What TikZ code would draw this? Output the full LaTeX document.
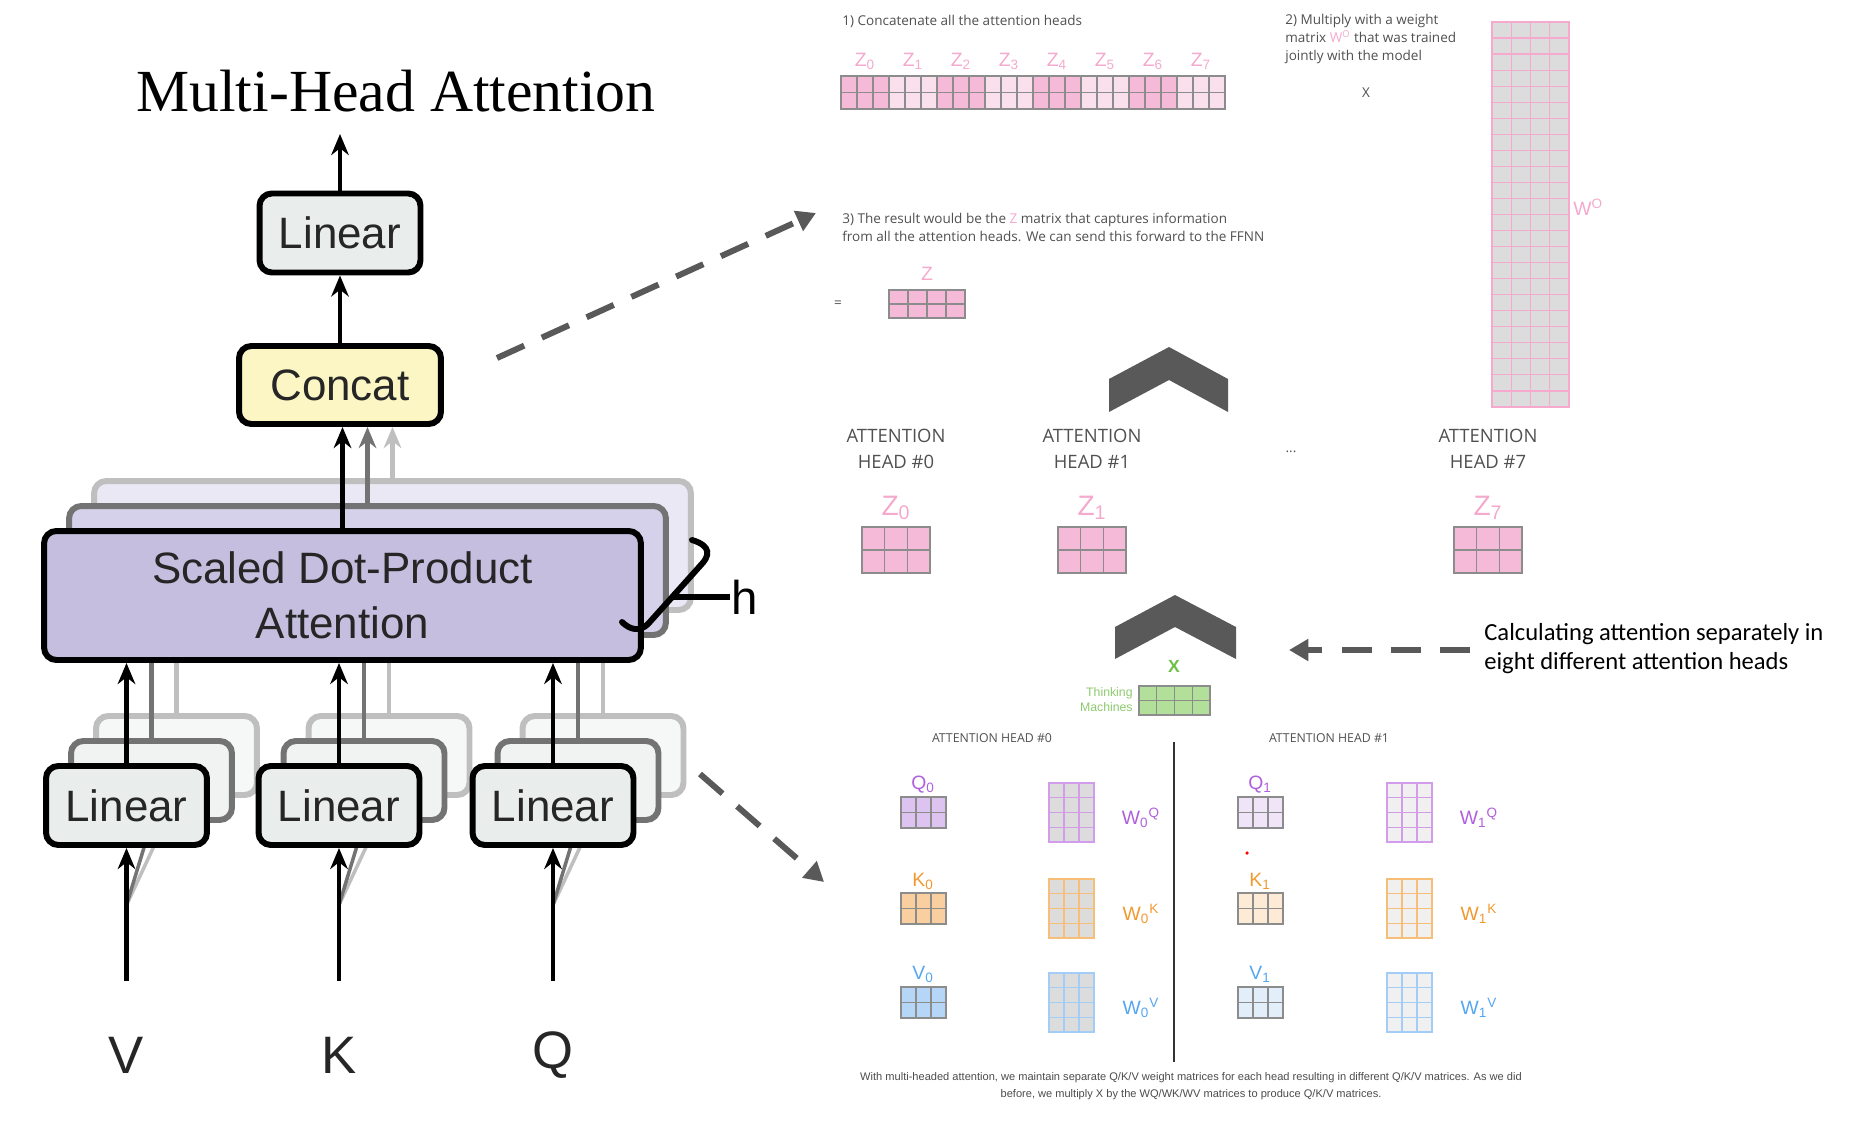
\documentclass[tikz,border=0pt]{standalone}
\usepackage{fontspec}
\setmainfont{Liberation Sans}
\newfontfamily\titlefont{Liberation Serif}
\newfontfamily\notefont{Open Sans}
\newfontfamily\calfont{Carlito}
\usepackage{tikz}
\usetikzlibrary{arrows.meta, positioning}

\definecolor{linfill}{HTML}{E9EEEC}
\definecolor{catfill}{HTML}{FCF6C4}
\definecolor{attfill}{HTML}{C5BEDF}
\definecolor{att2fill}{HTML}{D6D1EA}
\definecolor{att3fill}{HTML}{EAE8F4}
\definecolor{arrowgray}{HTML}{595959}
\definecolor{notegray}{HTML}{505050}
\definecolor{zpink}{HTML}{F4A9CD}
\definecolor{zdark}{HTML}{F4BAD7}
\definecolor{zlight}{HTML}{FADFEC}
\definecolor{cellgray}{HTML}{8C8C8C}
\definecolor{wgray}{HTML}{DCDCDC}
\definecolor{wlight}{HTML}{F0F0F0}
\definecolor{qpurple}{HTML}{AF60DD}
\definecolor{qline}{HTML}{D29CEA}
\definecolor{qfill}{HTML}{DDC3F0}
\definecolor{qfaint}{HTML}{F0E5F8}
\definecolor{korange}{HTML}{F1992F}
\definecolor{kline}{HTML}{F7BE78}
\definecolor{kfill}{HTML}{F9CF9F}
\definecolor{kfaint}{HTML}{FDEBD6}
\definecolor{vblue}{HTML}{55A6F2}
\definecolor{vline}{HTML}{A3CDF6}
\definecolor{vfill}{HTML}{B6D6F7}
\definecolor{vfaint}{HTML}{E3EEFB}
\definecolor{xgreen}{HTML}{6CBF47}
\definecolor{xfill}{HTML}{B2DF9A}
\definecolor{xtext}{HTML}{8CC96C}

\tikzstyle{block} = [rectangle, rounded corners=7pt, line width=3.4pt, draw=black, text=black!85, font=\fontsize{25}{31}\selectfont, inner sep=0pt]
\tikzstyle{linbox} = [block, minimum width=3.22cm, minimum height=1.58cm, fill=linfill]
\tikzstyle{linmid} = [linbox, draw=black!55, fill=linfill!70]
\tikzstyle{linfar} = [linbox, draw=black!25, fill=linfill!40]
\tikzstyle{catbox} = [block, minimum width=4.04cm, minimum height=1.56cm, fill=catfill]
\tikzstyle{attbox} = [block, minimum width=11.94cm, minimum height=2.58cm, fill=attfill, align=center]
\tikzstyle{attmid} = [attbox, draw=black!55, fill=att2fill]
\tikzstyle{attfar} = [attbox, draw=black!25, fill=att3fill]
\tikzstyle{arrow} = [line width=2.8pt, -{Stealth[length=12pt, width=10pt]}]
\tikzstyle{ghostline} = [line width=2.8pt, black!55]
\tikzstyle{farline} = [line width=2.8pt, black!25]
\tikzstyle{dasharrow} = [line width=3.4pt, arrowgray, dash pattern=on 17pt off 11pt, -{Triangle[length=11pt, width=12pt]}]
\tikzstyle{note} = [inner sep=0pt, text=notegray, font=\notefont\fontsize{7.7}{10.2}\selectfont]
\tikzstyle{headlab} = [inner sep=0pt, align=center, text=notegray, font=\notefont\fontsize{10.5}{14.8}\selectfont]
\tikzstyle{headsmall} = [inner sep=0pt, text=notegray, font=\notefont\fontsize{7}{8}\selectfont]
\tikzstyle{zsmall} = [inner sep=0pt, text=zpink, font=\fontsize{11}{12}\selectfont]
\tikzstyle{zbig} = [inner sep=0pt, text=zpink, font=\fontsize{16}{18}\selectfont]
\tikzstyle{mlab} = [inner sep=0pt, font=\fontsize{11}{12}\selectfont]

% x, y, columns, rows, cell width, cell height, fill, lines
\newcommand{\cellgrid}[8]{%
  \foreach \ci in {1,...,#3}{%
    \foreach \cj in {1,...,#4}{%
      \draw[draw=#8, fill=#7, line width=0.7pt] ({#1+(\ci-1)*#5},{#2+(\cj-1)*#6}) rectangle ++(#5,#6);
    }}}

\begin{document}
\begin{tikzpicture}[x=0.02cm, y=-0.02cm]
\useasboundingbox (0,0) rectangle (1854,1125);

% multi-head attention block
\node (title) at (396,91) {\titlefont\fontsize{34}{40}\selectfont Multi-Head Attention};
\coordinate (out) at (340,134);
\node (lintop)[linbox] at (340,233) {Linear};
\node (concat)[catbox] at (340,385) {Concat};
\draw [arrow] (lintop.north) -- (out);
\draw [arrow] (concat.north) -- (lintop.south);

\node (sdpa3)[attfar] at (392.5,545.5) {};
\node (sdpa2)[attmid] at (367.5,570.5) {};
\node (sdpa)[attbox] at (342.5,595.5) {Scaled Dot-Product\\Attention};
\draw [arrow, black!25] (sdpa3.north) -- (sdpa3.north |- concat.south);
\draw [arrow, black!55] (sdpa2.north) -- (sdpa2.north |- concat.south);
\draw [arrow] (sdpa.north) -- (sdpa.north |- concat.south);

% h brace
\coordinate (hb) at (671,597);
\node (h)[font=\fontsize{27}{30}\selectfont, inner sep=1pt] at (745,597) {h};
\draw [line width=3.4pt, line cap=round] (692,540) .. controls (712,546) and (710,556) .. (700,566) -- (648,624) .. controls (640,632) and (630,630) .. (622,622);
\draw [line width=3.4pt] (hb) -- (h.west);

% linear projections
\foreach \n/\px/\lt in {v/126.5/V, k/339/K, q/553/Q} {
  \node (lin\n3)[linfar] at (\px+50,755.5) {};
  \draw [farline] (lin\n3.north) -- (lin\n3.north |- sdpa.south);
  \node (lin\n2)[linmid] at (\px+25,780.5) {};
  \draw [ghostline] (lin\n2.north) -- (lin\n2.north |- sdpa.south);
  \coordinate (fork\n) at (\px,905);
  \draw [farline, line width=2pt] (fork\n) -- (lin\n3.south);
  \draw [ghostline, line width=2pt] (fork\n) -- (lin\n2.south);
  \node (lin\n)[linbox] at (\px,805.5) {Linear};
  \draw [arrow] (lin\n.north) -- (lin\n.north |- sdpa.south);
  \coordinate (in\n) at (\px,981);
  \draw [arrow] (in\n) -- (lin\n.south);
  \node (lab\n)[font=\fontsize{30}{32}\selectfont, text=black!85] at (\px,1055) {\lt};
}

% dashed pointers
\coordinate (d1a) at (497,358);
\coordinate (d1b) at (816,213);
\draw [dasharrow] (d1a) -- (d1b);
\coordinate (d2a) at (700,774);
\coordinate (d2b) at (824,882);
\draw [dasharrow] (d2a) -- (d2b);
\node (calc)[anchor=west, align=left, inner sep=0pt, font=\calfont\fontsize{14}{16.5}\selectfont] at (1484,649) {Calculating attention separately in\\eight different attention heads};
\coordinate (d3a) at (1470,650);
\coordinate (d3b) at (1289,650);
\draw [dasharrow] (d3a) -- (d3b);

% step 1: concatenation
\node (note1)[note, anchor=west] at (842,21) {1) Concatenate all the attention heads};
\foreach \g/\c in {0/zdark, 1/zlight, 2/zdark, 3/zlight, 4/zdark, 5/zlight, 6/zdark, 7/zlight} {
  \cellgrid{841+\g*48}{76}{3}{2}{16}{16.5}{\c}{cellgray}
  \node (zc\g)[zsmall] at (865+\g*48,61) {Z\textsubscript{\g}};
}

% step 2: output weights
\node (note2)[note, anchor=north west, align=left] at (1285,14) {2) Multiply with a weight\\matrix \textcolor{zpink}{W\textsuperscript{O}} that was trained\\jointly with the model};
\node (times)[note] at (1366,93) {X};
\cellgrid{1492}{22}{4}{24}{19.25}{16.04}{wgray}{zpink}
\node (wo)[zsmall, anchor=west] at (1573,207) {W\textsuperscript{O}};

% step 3: result
\node (note3)[note, anchor=north west, align=left] at (842,213) {3) The result would be the \textcolor{zpink}{Z} matrix that captures information\\from all the attention heads. We can send this forward to the FFNN};
\node (eq)[note] at (838,304) {=};
\cellgrid{889}{290}{4}{2}{19}{14}{zdark}{cellgray}
\node (zres)[zsmall] at (927,274) {Z};

% upper chevron
\fill [arrowgray] (1109,379) -- (1169,347) -- (1228,379) -- (1228,412) -- (1169,380) -- (1109,412) -- cycle;

% heads
\foreach \hd/\px in {0/896, 1/1092, 7/1488} {
  \node (head\hd)[headlab] at (\px,449) {ATTENTION\\HEAD \#\hd};
  \node (zh\hd)[zbig] at (\px,508) {Z\textsubscript{\hd}};
  \cellgrid{\px-34}{527}{3}{2}{22.7}{23}{zdark}{cellgray}
}
\node (dots)[note] at (1291,452) {...};

% lower chevron
\fill [arrowgray] (1115,627) -- (1175,595) -- (1236,627) -- (1236,659) -- (1175,627) -- (1115,659) -- cycle;

% input X
\node (xin)[font=\bfseries\fontsize{10}{12}\selectfont, text=xgreen, inner sep=0pt] at (1174,666) {X};
\node (words)[anchor=east, align=right, inner sep=0pt, text=xtext, font=\fontsize{7}{8.5}\selectfont] at (1133,700) {Thinking\\Machines};
\cellgrid{1139}{686}{4}{2}{17.75}{14.5}{xfill}{cellgray}

% per-head weights
\node (bh0)[headsmall] at (992,738) {ATTENTION HEAD \#0};
\node (bh1)[headsmall] at (1329,738) {ATTENTION HEAD \#1};
\coordinate (divtop) at (1174,742);
\coordinate (divbot) at (1174,1062);
\draw [line width=1pt, black!80] (divtop) -- (divbot);
\foreach \m/\ly/\my/\wy/\lc/\lf/\ff/\fa in {Q/785/797/783/qpurple/qline/qfill/qfaint, K/881/893/879/korange/kline/kfill/kfaint, V/974/987/973/vblue/vline/vfill/vfaint} {
  \node (\m0)[mlab, text=\lc] at (923,\ly) {\m\textsubscript{0}};
  \cellgrid{901}{\my}{3}{2}{15}{15.5}{\ff}{cellgray}
  \cellgrid{1049}{\wy}{3}{4}{15}{14.75}{wgray}{\lf}
  \node (w\m0)[mlab, text=\lc] at (1141,\wy+35) {W\textsubscript{0}\textsuperscript{\m}};
  \node (\m1)[mlab, text=\lc] at (1260,\ly) {\m\textsubscript{1}};
  \cellgrid{1238}{\my}{3}{2}{15}{15.5}{\fa}{cellgray}
  \cellgrid{1387}{\wy}{3}{4}{15}{14.75}{wlight}{\lf}
  \node (w\m1)[mlab, text=\lc] at (1479,\wy+35) {W\textsubscript{1}\textsuperscript{\m}};
}
\fill [red] (1247,853) circle (1pt);

\node (caption)[align=center, inner sep=0pt, text=black!70, font=\fontsize{6.3}{9.7}\selectfont] at (1191,1086) {With multi-headed attention, we maintain separate Q/K/V weight matrices for each head resulting in different Q/K/V matrices. As we did\\before, we multiply X by the WQ/WK/WV matrices to produce Q/K/V matrices.};
\end{tikzpicture}
\end{document}
